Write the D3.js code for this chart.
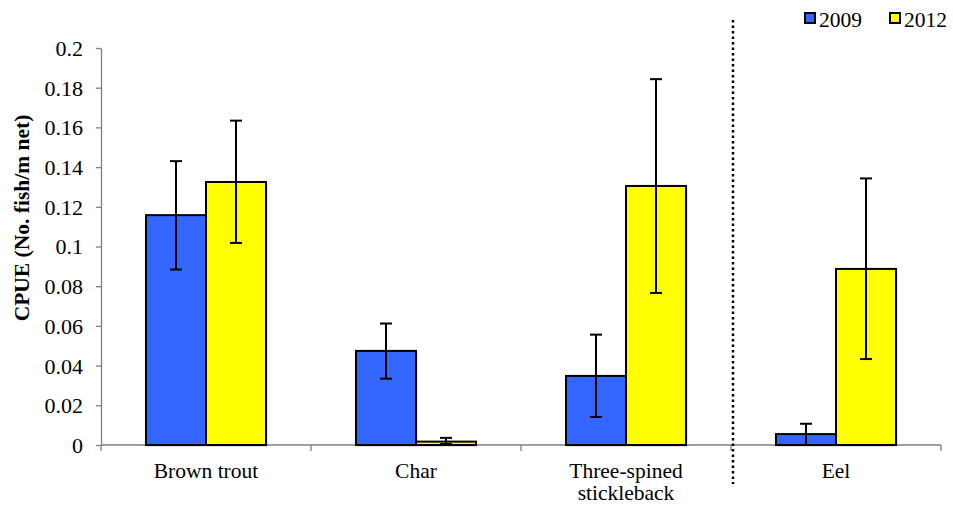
<!DOCTYPE html>
<html>
<head>
<meta charset="utf-8">
<script src="https://cdn.jsdelivr.net/npm/d3@7"></script>
<style>
  html, body { margin: 0; padding: 0; background: #fff; }
  svg { display: block; }
  svg text { font-family: "Liberation Serif", "Times New Roman", Times, serif; }
</style>
</head>
<body>
<svg id="chart" width="953" height="506"></svg>
<script>
// Catch per unit effort by species and survey year
const categories = ["Brown trout", "Char", "Three-spined\nstickleback", "Eel"];
const years = ["2009", "2012"];
const values2009 = [0.1158, 0.0474, 0.0348, 0.0055];
const values2012 = [0.1325, 0.0017, 0.1305, 0.0887];
const errLow2009  = [0.0884, 0.0334, 0.0141, 0.0];
const errHigh2009 = [0.1430, 0.0612, 0.0556, 0.0107];
const errLow2012  = [0.1018, 0.0005, 0.0766, 0.0433];
const errHigh2012 = [0.1634, 0.0036, 0.1843, 0.1343];
const yTicks = [0, 0.02, 0.04, 0.06, 0.08, 0.1, 0.12, 0.14, 0.16, 0.18, 0.2];
const colors = ["#3366FF", "#FFFF00"];

const svg = d3.select("#chart");
const fontSize = 21.5;

const plotLeft = 101, plotRight = 941, plotTop = 48, plotBottom = 445;

const x = d3.scaleBand().domain(categories).range([plotLeft, plotRight]).padding(0);
// two bars per group, centred, with 45px of space either side
const xInner = d3.scaleBand().domain(years).range([45, x.bandwidth() - 45]).padding(0);

const y = d3.scaleLinear().domain([0, 0.2]).range([plotBottom, plotTop]);

const series = [
  { year: "2009", vals: values2009, lo: errLow2009, hi: errHigh2009, color: colors[0] },
  { year: "2012", vals: values2012, lo: errLow2012, hi: errHigh2012, color: colors[1] }
];

// Y axis
const yAxis = d3.axisLeft(y).tickValues(yTicks).tickSize(5).tickSizeOuter(0)
  .tickFormat(d => d === 0 ? "0" : String(+d.toFixed(2)));
const gy = svg.append("g").attr("transform", `translate(${plotLeft},0)`).call(yAxis);
gy.attr("font-family", null).attr("font-size", null);
gy.select(".domain").attr("stroke", "#808080").attr("stroke-width", 1.3);
gy.selectAll(".tick line").attr("stroke", "#808080").attr("stroke-width", 1.3);
gy.selectAll(".tick text").style("font-size", "22px").attr("fill", "#000")
  .attr("x", -18).attr("dy", "0.34em");

// Soft drop shadow under each bar
series.forEach(s => {
  svg.append("g").selectAll("rect").data(categories).join("rect")
    .attr("x", c => x(c) + xInner(s.year) + 1.5)
    .attr("y", (c, i) => y(s.vals[i]) + 1.5)
    .attr("width", xInner.bandwidth())
    .attr("height", (c, i) => y(0) - y(s.vals[i]))
    .attr("fill", "#c8c8c8");
});

// X axis line with ticks at category boundaries
const xEdges = categories.map(c => x(c)).concat([plotRight]);
svg.append("line").attr("x1", plotLeft).attr("x2", plotRight).attr("y1", plotBottom).attr("y2", plotBottom)
  .attr("stroke", "#808080").attr("stroke-width", 1.3);
svg.append("g").selectAll("line").data(xEdges).join("line")
  .attr("x1", d => d).attr("x2", d => d).attr("y1", plotBottom).attr("y2", plotBottom + 6)
  .attr("stroke", "#808080").attr("stroke-width", 1.3);

// Bars
series.forEach(s => {
  svg.append("g").selectAll("rect").data(categories).join("rect")
    .attr("x", c => x(c) + xInner(s.year))
    .attr("y", (c, i) => y(s.vals[i]))
    .attr("width", xInner.bandwidth())
    .attr("height", (c, i) => y(0) - y(s.vals[i]))
    .attr("fill", s.color)
    .attr("stroke", "#000")
    .attr("stroke-width", 2);
});

// Error bars
series.forEach(s => {
  const g = svg.append("g").attr("stroke", "#000").attr("stroke-width", 2);
  categories.forEach((c, i) => {
    const cx = x(c) + xInner(s.year) + xInner.bandwidth() / 2;
    g.append("line").attr("x1", cx).attr("x2", cx).attr("y1", y(s.hi[i])).attr("y2", y(s.lo[i]));
    g.append("line").attr("x1", cx - 6).attr("x2", cx + 6).attr("y1", y(s.hi[i])).attr("y2", y(s.hi[i]));
    if (s.lo[i] > 0) {
      g.append("line").attr("x1", cx - 6).attr("x2", cx + 6).attr("y1", y(s.lo[i])).attr("y2", y(s.lo[i]));
    }
  });
});

// Category labels
categories.forEach(c => {
  const lines = c.split("\n");
  const t = svg.append("text").style("font-size", fontSize + "px")
    .attr("text-anchor", "middle").attr("fill", "#000");
  lines.forEach((ln, k) => {
    t.append("tspan").attr("x", x(c) + x.bandwidth() / 2).attr("y", 478 + k * 22).text(ln);
  });
});

// Dotted separator between the stickleback and eel groups
const sepX = x("Eel") + 2;
svg.append("line").attr("x1", sepX).attr("x2", sepX).attr("y1", 20).attr("y2", 484)
  .attr("stroke", "#000").attr("stroke-width", 2.5).attr("stroke-dasharray", "2.5,3");

// Y axis title
svg.append("text")
  .attr("transform", `translate(29,218) rotate(-90)`)
  .attr("text-anchor", "middle").style("font-size", fontSize + "px")
  .attr("font-weight", "bold").attr("fill", "#000")
  .text("CPUE (No. fish/m net)");

// Legend
const legendItems = [{ label: "2009", x: 805, color: colors[0] }, { label: "2012", x: 890, color: colors[1] }];
legendItems.forEach(l => {
  svg.append("rect").attr("x", l.x).attr("y", 13).attr("width", 10).attr("height", 10)
    .attr("fill", l.color).attr("stroke", "#000").attr("stroke-width", 2);
  svg.append("text").attr("x", l.x + 14).attr("y", 27).style("font-size", fontSize + "px")
    .attr("fill", "#000").text(l.label);
});
</script>
</body>
</html>
